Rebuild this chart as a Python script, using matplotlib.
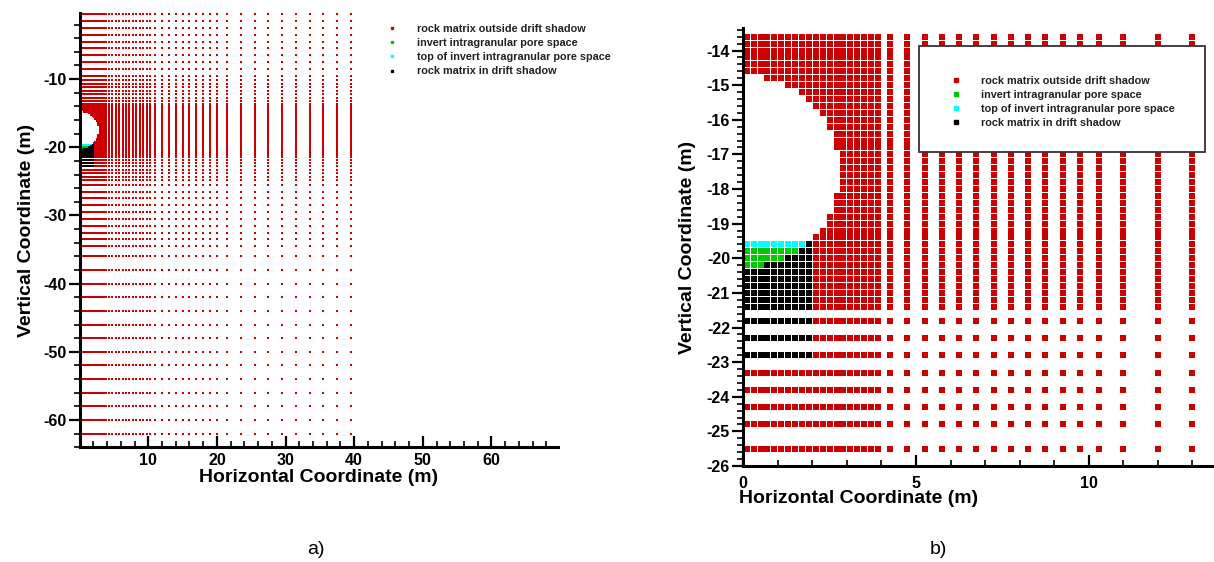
import matplotlib
matplotlib.use("Agg")
from matplotlib import pyplot as plt
from matplotlib.lines import Line2D
from matplotlib.patches import Rectangle
from matplotlib.ticker import MultipleLocator

plt.rcParams['font.family'] = ['Liberation Sans', 'DejaVu Sans']
plt.rcParams['axes.unicode_minus'] = False

# grid column centres (m)
x_cols = [0.1, 0.3, 0.5, 0.7, 0.9, 1.1, 1.3, 1.5, 1.7, 1.9,
          2.1, 2.3, 2.5, 2.7, 2.9, 3.1, 3.3, 3.5, 3.7, 3.9,
          4.25, 4.75, 5.25, 5.75, 6.25, 6.75, 7.25, 7.75, 8.25, 8.75,
          9.25, 9.75, 10.3, 11.0, 12.0, 13.0, 14.0, 15.0, 16.0, 17.0,
          18.0, 19.0, 20.0, 21.5, 23.5, 25.5, 27.5, 29.5, 31.5, 33.5,
          35.5, 37.5, 39.5]

# grid row centres (m)
y_rows = [-0.5, -1.5, -2.5, -3.5, -4.5, -5.5, -6.5, -7.5, -8.5, -9.5,
          -10.2, -10.7, -11.2, -11.7, -12.2, -12.7, -13.2,
          -13.6, -13.8, -14.0, -14.2, -14.4, -14.6, -14.8, -15.0, -15.2, -15.4,
          -15.6, -15.8, -16.0, -16.2, -16.4, -16.6, -16.8, -17.0, -17.2, -17.4,
          -17.6, -17.8, -18.0, -18.2, -18.4, -18.6, -18.8, -19.0, -19.2, -19.4,
          -19.6, -19.8, -20.0, -20.2, -20.4, -20.6, -20.8, -21.0, -21.2, -21.4,
          -21.8, -22.3, -22.8, -23.3, -23.8, -24.3, -24.8, -25.5,
          -26.5, -27.5, -28.5, -29.5, -30.5, -31.5, -32.5, -33.5, -34.5,
          -36.0, -38.0, -40.0, -42.0, -44.0, -46.0, -48.0, -50.0, -52.0,
          -54.0, -56.0, -58.0, -60.0, -62.0]

# rows touching the drift: number of leading cells (from x=0) of each kind
drift_y = [-14.8, -15.0, -15.2, -15.4, -15.6, -15.8, -16.0, -16.2, -16.4, -16.6,
           -16.8, -17.0, -17.2, -17.4, -17.6, -17.8, -18.0, -18.2, -18.4, -18.6,
           -18.8, -19.0, -19.2, -19.4, -19.6, -19.8, -20.0, -20.2, -20.4, -20.6,
           -20.8, -21.0, -21.2, -21.4, -21.8, -22.3, -22.8]
n_void = [3, 6, 8, 9, 10, 11, 12, 12, 13, 13,
          13, 14, 14, 14, 14, 14, 14, 13, 13, 13,
          12, 12, 11, 10, 0, 0, 0, 0, 0, 0,
          0, 0, 0, 0, 0, 0, 0]
n_cyan = [0, 0, 0, 0, 0, 0, 0, 0, 0, 0,
          0, 0, 0, 0, 0, 0, 0, 0, 0, 0,
          0, 0, 0, 0, 9, 0, 0, 0, 0, 0,
          0, 0, 0, 0, 0, 0, 0]
n_green = [0, 0, 0, 0, 0, 0, 0, 0, 0, 0,
           0, 0, 0, 0, 0, 0, 0, 0, 0, 0,
           0, 0, 0, 0, 0, 8, 6, 3, 0, 0,
           0, 0, 0, 0, 0, 0, 0]
n_black = [0, 0, 0, 0, 0, 0, 0, 0, 0, 0,
           0, 0, 0, 0, 0, 0, 0, 0, 0, 0,
           0, 0, 0, 0, 1, 2, 4, 7, 10, 10,
           10, 10, 10, 10, 10, 10, 10]

labels = ['rock matrix outside drift shadow', 'invert intragranular pore space',
          'top of invert intragranular pore space', 'rock matrix in drift shadow']
colors = ['#cc0000', '#00c800', '#00ffff', '#000000']

W, H = 1214, 562


def classify():
    pts = [([], []) for _ in labels]
    for y in y_rows:
        v, c, g, b = 0, 0, 0, 0
        if y in drift_y:
            j = drift_y.index(y)
            v, c, g, b = n_void[j], n_cyan[j], n_green[j], n_black[j]
        for i, x in enumerate(x_cols):
            if i < v:
                continue
            elif i < v + c:
                k = 2
            elif i < v + c + g:
                k = 1
            elif i < v + c + g + b:
                k = 3
            else:
                k = 0
            pts[k][0].append(x)
            pts[k][1].append(y)
    return pts


def style_axes(ax, fs, xpad):
    for s in ['top', 'right']:
        ax.spines[s].set_visible(False)
    for s in ['left', 'bottom']:
        ax.spines[s].set_linewidth(2.2)
    ax.tick_params(axis='x', which='major', direction='in', length=8, width=1.6, pad=xpad, labelsize=fs)
    ax.tick_params(axis='x', which='minor', direction='in', length=4.5, width=1.2)
    ax.tick_params(axis='y', which='major', direction='out', length=8, width=1.6, pad=1.5, labelsize=fs)
    ax.tick_params(axis='y', which='minor', direction='out', length=4.5, width=1.2)
    for t in ax.get_xticklabels() + ax.get_yticklabels():
        t.set_fontweight('bold')


def add_legend(ax, msize, left, top):
    handles = [Line2D([], [], marker='s', ls='none', color=c, markersize=msize) for c in colors]
    leg = ax.legend(handles, labels, loc='upper left', bbox_to_anchor=(left / W, 1 - top / H),
                    bbox_transform=ax.figure.transFigure, frameon=False, borderpad=0,
                    borderaxespad=0, handlelength=2, handletextpad=1.3, labelspacing=0.38,
                    prop={'size': 7.8, 'weight': 'bold'})
    leg.set_zorder(7)
    for t in leg.get_texts():
        t.set_color('#222222')
    return leg


pts = classify()
fig = plt.figure(figsize=(W / 100, H / 100), dpi=100)

# panel a: whole domain
ax1 = fig.add_axes([80 / W, 1 - 447.3 / H, 478 / W, 434.3 / H])
for k in range(len(labels)):
    ax1.scatter(pts[k][0], pts[k][1], s=3.2, marker='s', c=colors[k], linewidths=0,
                antialiased=False)
ax1.set_xlim(0.05, 69.7)
ax1.set_ylim(-64, -0.3)
ax1.xaxis.set_major_locator(MultipleLocator(10))
ax1.xaxis.set_minor_locator(MultipleLocator(2))
ax1.yaxis.set_major_locator(MultipleLocator(10))
ax1.yaxis.set_minor_locator(MultipleLocator(2))
style_axes(ax1, 11.5, 4)
ax1.set_xlabel('Horizontal Coordinate (m)', fontsize=14, fontweight='bold')
ax1.set_ylabel('Vertical Coordinate (m)', fontsize=14, fontweight='bold')
ax1.xaxis.set_label_coords(0.5, -0.05)
ax1.yaxis.set_label_coords(-0.094, 0.5)
add_legend(ax1, 1.8, 381.6, 24)

# panel b: close-up around the drift
ax2 = fig.add_axes([743.3 / W, 1 - 466 / H, 469.7 / W, 438 / H])
for k in range(len(labels)):
    ax2.scatter(pts[k][0], pts[k][1], s=14, marker='s', c=colors[k], linewidths=0,
                antialiased=False)
ax2.set_xlim(0, 13.6)
ax2.set_ylim(-26, -13.35)
ax2.xaxis.set_major_locator(MultipleLocator(5))
ax2.xaxis.set_minor_locator(MultipleLocator(1))
ax2.yaxis.set_major_locator(MultipleLocator(1))
ax2.yaxis.set_minor_locator(MultipleLocator(0.2))
style_axes(ax2, 11.5, 7)
ax2.set_xlabel('Horizontal Coordinate (m)', fontsize=14, fontweight='bold')
ax2.set_ylabel('Vertical Coordinate (m)', fontsize=14, fontweight='bold')
ax2.xaxis.set_label_coords(0.245, -0.055)
ax2.yaxis.set_label_coords(-0.1, 0.5)

box = Rectangle((919.3 / W, 1 - 152.3 / H), 285.7 / W, 106.3 / H, transform=fig.transFigure,
                facecolor='white', edgecolor='#333333', linewidth=1.3, zorder=6, clip_on=False)
ax2.add_patch(box)
add_legend(ax2, 3.4, 945, 75.5)

fig.text(316 / W, 1 - 549 / H, 'a)', ha='center', va='center', fontsize=14)
fig.text(938 / W, 1 - 549 / H, 'b)', ha='center', va='center', fontsize=14)

fig.savefig('out.png', dpi=100)
